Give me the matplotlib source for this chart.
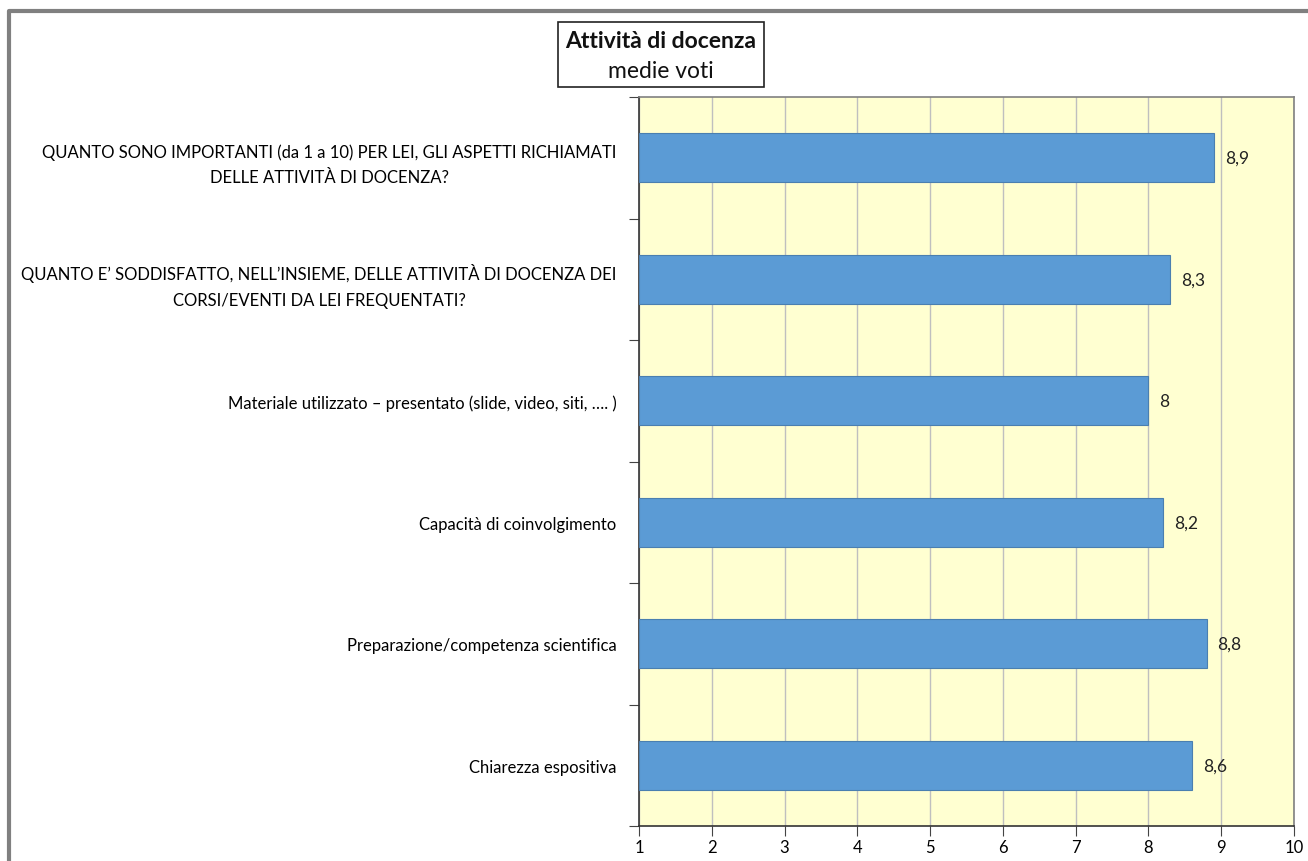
import matplotlib.pyplot as plt
from matplotlib.lines import Line2D

# dati
categorie = [
    "QUANTO SONO IMPORTANTI (da 1 a 10) PER LEI, GLI ASPETTI RICHIAMATI\nDELLE ATTIVITÀ DI DOCENZA?",
    "QUANTO E\u2019 SODDISFATTO, NELL\u2019INSIEME, DELLE ATTIVITÀ DI DOCENZA DEI\nCORSI/EVENTI DA LEI FREQUENTATI?",
    "Materiale utilizzato \u2013 presentato (slide, video, siti, \u2026. )",
    "Capacità di coinvolgimento",
    "Preparazione/competenza scientifica",
    "Chiarezza espositiva",
]
medie = [8.9, 8.3, 8.0, 8.2, 8.8, 8.6]
etichette = ["8,9", "8,3", "8", "8,2", "8,8", "8,6"]
tick_x = [1, 2, 3, 4, 5, 6, 7, 8, 9, 10]

plt.rcParams['font.family'] = ['Lato', 'DejaVu Sans']

fig = plt.figure(figsize=(13.08, 8.62), dpi=100)
ax = fig.add_axes([0.4885, 0.0406, 0.5008, 0.8457])
ax.set_facecolor("#FFFFD1")

pos = list(range(len(categorie)))
ax.barh(pos, [m - 1 for m in medie], left=1, height=0.4,
        color="#5B9BD5", edgecolor="#4A7FB0", linewidth=0.8, zorder=3)

for p, m, t in zip(pos, medie, etichette):
    ax.text(m + 0.15, p, t, va="center", ha="left", fontsize=12.5, color="#222222", zorder=4)

ax.set_xlim(1, 10)
ax.set_ylim(len(categorie) - 0.5, -0.5)
ax.set_xticks(tick_x)
ax.set_xticklabels([str(v) for v in tick_x], fontsize=12)
ax.set_yticks([p - 0.5 for p in pos] + [len(categorie) - 0.5])
ax.set_yticklabels([])
ax.set_yticks(pos, minor=True)
ax.set_yticklabels(categorie, minor=True, fontsize=12, ha="right")
ax.tick_params(axis="y", which="minor", length=0, pad=16)
ax.tick_params(axis="y", which="major", length=7, color="#444444")
ax.tick_params(axis="x", length=7, pad=2, color="#444444")

for lab in ax.get_yticklabels(minor=True):
    lab.set_multialignment("center")
    lab.set_linespacing(1.75)

ax.grid(axis="x", color="#BFBFBF", linewidth=1, zorder=0)
for s in ["left", "bottom"]:
    ax.spines[s].set_color("#333333")
    ax.spines[s].set_linewidth(1.2)
for s in ["right", "top"]:
    ax.spines[s].set_color("#808080")
    ax.spines[s].set_linewidth(1.2)

# titolo in un riquadro
fig.patches.append(plt.Rectangle((558 / 1308, 1 - 88 / 862), 206 / 1308, 65 / 862,
                                 transform=fig.transFigure, facecolor="white",
                                 edgecolor="#222222", linewidth=1.2))
fig.text(661 / 1308, 1 - 42 / 862, "Attività di docenza", ha="center", va="center",
         fontsize=16.5, fontweight="bold", color="#111111")
fig.text(661 / 1308, 1 - 71 / 862, "medie voti", ha="center", va="center",
         fontsize=16.5, color="#111111")

# bordo esterno
fig.lines.append(Line2D([9 / 1308, 9 / 1308, 1.0], [0.0, 1 - 12 / 862, 1 - 12 / 862],
                        transform=fig.transFigure, color="#808080", linewidth=3))

fig.savefig("out.png", dpi=100)
